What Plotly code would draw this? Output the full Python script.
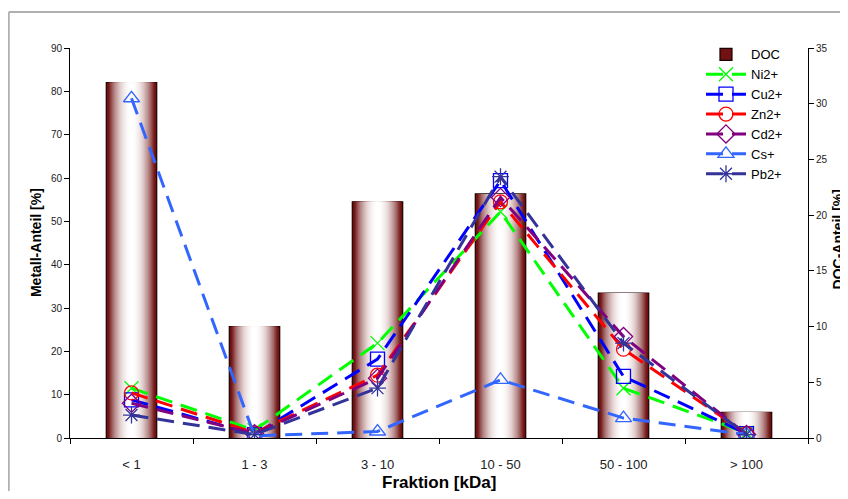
import plotly.graph_objects as go

categories = ["< 1", "1 - 3", "3 - 10", "10 - 50", "50 - 100", "> 100"]
doc = [31.9, 10.0, 21.2, 21.9, 13.0, 2.3]
ni = [11.5, 1.8, 21.9, 52.2, 11.5, 1.2]
cu = [8.8, 0.8, 18.2, 59.4, 14.2, 1.0]
zn = [10.4, 1.2, 14.5, 54.5, 20.5, 1.0]
cd = [8.0, 1.0, 13.8, 55.5, 23.4, 0.8]
cs = [78.4, 0.5, 1.5, 13.4, 4.6, 0.8]
pb = [5.3, 0.8, 11.5, 60.3, 21.9, 0.8]

series = [
    ("Ni2+", ni, "#00FF00", "x-thin-open"),
    ("Cu2+", cu, "#0000FF", "square-open"),
    ("Zn2+", zn, "#FF0000", "circle-open"),
    ("Cd2+", cd, "#800080", "diamond-open"),
    ("Cs+", cs, "#3366FF", "triangle-up-open"),
    ("Pb2+", pb, "#333399", "asterisk-open"),
]

fig = go.Figure()

# gradient bars: overlaid layers, dark maroon at the edges -> white in the centre
BAR_W = 0.41
N = 22
edge = (112, 18, 18)
for i in range(N):
    t = 1 - i / N  # 1 at outer edge
    w = BAR_W * t
    f = min(1.0, t ** 2.2 * 1.15)
    col = tuple(int(round(255 + (e - 255) * f)) for e in edge)
    fig.add_trace(go.Bar(
        x=categories, y=doc, width=w, yaxis="y",
        marker=dict(color="rgb(%d,%d,%d)" % col,
                    line=dict(color="#1a0000", width=1.2 if i == 0 else 0)),
        name="DOC", showlegend=(i == 0), hoverinfo="skip" if i else None,
    ))

for name, vals, color, sym in series:
    fig.add_trace(go.Scatter(
        x=categories, y=vals, yaxis="y2", name=name, mode="lines+markers",
        line=dict(color=color, width=3, dash="17px,9px"),
        marker=dict(symbol=sym, size=14, color=color,
                    line=dict(color=color, width=1.3)),
    ))

FONT = "Liberation Sans, Arial"
tickfont = dict(family=FONT, size=10, color="#222")

fig.update_layout(
    width=840, height=483,
    paper_bgcolor="white", plot_bgcolor="white",
    margin=dict(l=62, r=40, t=40, b=53, autoexpand=False),
    barmode="overlay",
    font=dict(family=FONT, color="black"),
    xaxis=dict(type="category", tickson="boundaries", ticks="outside", ticklen=5,
               tickcolor="black", showline=True, linecolor="black", linewidth=1,
               showgrid=False, automargin=False, ticklabelstandoff=14,
               tickfont=dict(family=FONT, size=13, color="#222")),
    yaxis=dict(side="right", range=[0, 35], dtick=5, ticks="outside", ticklen=5,
               tickcolor="black", showline=True, linecolor="black", showgrid=False,
               zeroline=False, tickfont=tickfont, automargin=False),
    yaxis2=dict(side="left", overlaying="y", range=[0, 90], dtick=10, ticks="outside", ticklen=5,
                tickcolor="black", showline=True, linecolor="black", showgrid=False,
                zeroline=False, tickfont=tickfont, automargin=False),
    legend=dict(x=0.855, y=1.022, xanchor="left", yanchor="top",
                font=dict(family=FONT, size=13, color="black"),
                bgcolor="rgba(255,255,255,0)", tracegroupgap=0, itemwidth=40),
    annotations=[
        dict(text="<b>Fraktion [kDa]</b>", xref="paper", yref="paper", x=0.5, y=-0.113,
             showarrow=False, xanchor="center", yanchor="middle",
             font=dict(family=FONT, size=17, color="black")),
        dict(text="<b>Metall-Anteil [%]</b>", xref="paper", yref="paper", x=-0.046, y=0.5,
             showarrow=False, textangle=-90, xanchor="center", yanchor="middle",
             font=dict(family=FONT, size=14, color="black")),
        dict(text="<b>DOC-Anteil [%]</b>", xref="paper", yref="paper", x=1.040, y=0.508,
             showarrow=False, textangle=-90, xanchor="center", yanchor="middle",
             font=dict(family=FONT, size=14, color="black")),
    ],
    shapes=[
        dict(type="line", xref="paper", yref="paper", x0=-0.083, x1=-0.083, y0=-0.2, y1=1.092,
             line=dict(color="#b0b0b0", width=2)),
        dict(type="line", xref="paper", yref="paper", x0=-0.083, x1=1.1, y0=1.092, y1=1.092,
             line=dict(color="#b0b0b0", width=2)),
    ],
)

fig.write_html("out.html")
